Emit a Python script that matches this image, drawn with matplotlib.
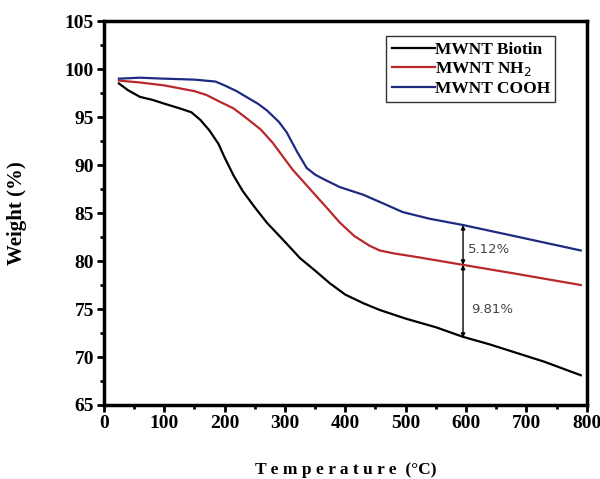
import matplotlib.pyplot as plt
from matplotlib.ticker import MultipleLocator

# temperature (°C) and weight (%)
temp_biotin = [25, 40, 60, 80, 100, 126, 145, 160, 175, 190, 200, 215, 230, 250, 270, 300, 325, 350, 374,
               400, 430, 457, 500, 550, 595, 640, 680, 730, 790]
w_biotin = [98.5, 97.8, 97.1, 96.8, 96.4, 95.9, 95.5, 94.7, 93.6, 92.2, 90.8, 88.9, 87.3, 85.6, 84.0, 82.0, 80.3,
            79.0, 77.7, 76.5, 75.6, 74.9, 74.0, 73.1, 72.1, 71.3, 70.5, 69.5, 68.1]

temp_nh2 = [25, 60, 100, 150, 170, 192, 215, 236, 260, 280, 300, 313, 340, 370, 391, 415, 440, 457, 480, 520,
            595, 680, 790]
w_nh2 = [98.8, 98.6, 98.3, 97.7, 97.3, 96.6, 95.9, 94.9, 93.7, 92.3, 90.6, 89.5, 87.6, 85.5, 84.0, 82.6, 81.6,
         81.1, 80.8, 80.4, 79.6, 78.7, 77.5]

temp_cooh = [25, 60, 100, 150, 185, 200, 220, 236, 255, 270, 290, 303, 320, 336, 350, 365, 391, 430, 470, 495,
             540, 595, 680, 790]
w_cooh = [99.0, 99.1, 99.0, 98.9, 98.7, 98.3, 97.7, 97.1, 96.4, 95.7, 94.5, 93.4, 91.4, 89.7, 89.0, 88.5, 87.7,
          86.9, 85.8, 85.1, 84.4, 83.75, 82.6, 81.1]

t_mark = 595
nh2_at_mark = 79.6
cooh_at_mark = 83.75
biotin_at_mark = 72.0

serif = 'Liberation Serif'

fig = plt.figure(figsize=(6, 4.79), dpi=100)
ax = fig.add_axes([0.173, 0.1545, 0.805, 0.8015])

ax.plot(temp_biotin, w_biotin, color='black', lw=1.6, label='MWNT Biotin')
ax.plot(temp_nh2, w_nh2, color='#b8282c', lw=1.6, label='MWNT NH$_2$')
ax.plot(temp_cooh, w_cooh, color='#1f2a80', lw=1.6, label='MWNT COOH')

ax.annotate('', xy=(t_mark, nh2_at_mark), xytext=(t_mark, cooh_at_mark),
            arrowprops=dict(arrowstyle='<|-|>', color='black', lw=1, mutation_scale=6, shrinkA=0, shrinkB=0))
ax.annotate('', xy=(t_mark, biotin_at_mark), xytext=(t_mark, nh2_at_mark),
            arrowprops=dict(arrowstyle='<|-|>', color='black', lw=1, mutation_scale=6, shrinkA=0, shrinkB=0))
ax.text(t_mark + 8, 80.8, '5.12%', fontsize=9.5, color='#444444', family='DejaVu Sans')
ax.text(t_mark + 14, 74.6, '9.81%', fontsize=9.5, color='#444444', family='DejaVu Sans')

ax.set_xlim(0, 800)
ax.set_ylim(65, 105)
ax.xaxis.set_major_locator(MultipleLocator(100))
ax.xaxis.set_minor_locator(MultipleLocator(50))
ax.yaxis.set_major_locator(MultipleLocator(5))
ax.yaxis.set_minor_locator(MultipleLocator(2.5))
ax.tick_params(which='major', direction='out', length=5, width=2, pad=2)
ax.tick_params(which='minor', direction='out', length=3, width=2)
for sp in ax.spines.values():
    sp.set_linewidth(2.5)
for lab in ax.get_xticklabels() + ax.get_yticklabels():
    lab.set_family(serif)
    lab.set_fontweight('bold')
    lab.set_fontsize(14)

ax.set_xlabel('T e m p e r a t u r e  (°C)', family=serif, fontweight='bold', fontsize=12.5, labelpad=22)
ax.set_ylabel('Weight (%)', family=serif, fontweight='bold', fontsize=15, labelpad=27)

leg = ax.legend(loc='upper right', bbox_to_anchor=(0.935, 0.96), prop={'family': serif, 'weight': 'bold', 'size': 12.5},
                frameon=True, fancybox=False, edgecolor='black', handlelength=2.5, handletextpad=0,
                borderpad=0.3, labelspacing=0.15, borderaxespad=0)
leg.get_frame().set_linewidth(1)

fig.savefig('out.png', dpi=100)
